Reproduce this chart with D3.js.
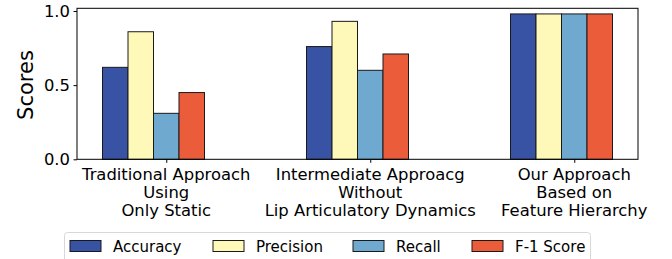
<!DOCTYPE html>
<html>
<head>
<meta charset="utf-8">
<script src="https://cdn.jsdelivr.net/npm/d3@7"></script>
<style>
  body { margin: 0; background: #fff; }
  svg { display: block; font-family: "DejaVu Sans", sans-serif; }
</style>
</head>
<body>
<div id="chart"></div>
<script>
// data
var groups = [
  ["Traditional Approach", "Using", "Only Static"],
  ["Intermediate Approacg", "Without", "Lip Articulatory Dynamics"],
  ["Our Approach", "Based on", "Feature Hierarchy"]
];
var metrics = ["Accuracy", "Precision", "Recall", "F-1 Score"];
var accuracy = [0.62, 0.76, 0.98];
var precision = [0.86, 0.93, 0.98];
var recall = [0.31, 0.60, 0.98];
var f1score = [0.45, 0.71, 0.98];
var yTicks = [0.0, 0.5, 1.0];
var colors = ["#3953a4", "#fef9b8", "#70a9d0", "#eb5d3a"];

var series = [accuracy, precision, recall, f1score];
var barW = 0.125;

var width = 672, height = 259;
var plotL = 77, plotR = 638, plotT = 8.3, plotB = 159.3;

var svg = d3.select("#chart").append("svg")
  .attr("width", width)
  .attr("height", height);

var x = d3.scaleLinear().domain([-0.1875, 2.5625]).range([plotL, plotR]);
var y = d3.scaleLinear().domain([0, 1.018]).range([plotB, plotT]);

// bars
series.forEach(function(vals, i){
  svg.selectAll(".bar" + i)
    .data(vals)
    .enter()
    .append("rect")
    .attr("x", function(d, g){ return x(g + i * barW - barW / 2); })
    .attr("y", function(d){ return y(d); })
    .attr("width", x(barW) - x(0))
    .attr("height", function(d){ return y(0) - y(d); })
    .attr("fill", colors[i])
    .attr("stroke", "#1a1a1a")
    .attr("stroke-width", 1);
});

// frame
svg.append("rect")
  .attr("x", plotL).attr("y", plotT)
  .attr("width", plotR - plotL).attr("height", plotB - plotT)
  .attr("fill", "none").attr("stroke", "#000").attr("stroke-width", 1);

// y axis
var yAxis = svg.append("g")
  .attr("transform", "translate(" + plotL + ",0)")
  .call(d3.axisLeft(y).tickValues(yTicks).tickFormat(d3.format(".1f")).tickSize(3.5).tickPadding(3.5));
yAxis.select(".domain").remove();
yAxis.selectAll("text").style("font-size", "16.4px").attr("fill", "#000").style("font-family", "DejaVu Sans");

// x axis, ticks at third bar of each group
var xAxis = svg.append("g")
  .attr("transform", "translate(0," + plotB + ")")
  .call(d3.axisBottom(x).tickValues([0, 1, 2].map(function(g){ return g + 2 * barW; })).tickFormat("").tickSize(3.5));
xAxis.select(".domain").remove();

groups.forEach(function(lines, g){
  var t = svg.append("text")
    .attr("x", x(g + 2 * barW))
    .attr("y", 180)
    .attr("text-anchor", "middle")
    .style("font-size", "16.4px");
  lines.forEach(function(l, k){
    t.append("tspan").attr("x", x(g + 2 * barW)).attr("dy", k === 0 ? 0 : 18).text(l);
  });
});

// y label
svg.append("text")
  .attr("transform", "translate(33,85) rotate(-90)")
  .attr("text-anchor", "middle")
  .style("font-size", "21px")
  .text("Scores");

// legend
var leg = svg.append("g");
leg.append("rect")
  .attr("x", 64.5).attr("y", 232.5)
  .attr("width", 526).attr("height", 40).attr("rx", 3)
  .attr("fill", "#fff").attr("stroke", "#d8d8d8");
var legX = [70, 213, 353, 472];
metrics.forEach(function(m, i){
  leg.append("rect")
    .attr("x", legX[i]).attr("y", 240.5)
    .attr("width", 31).attr("height", 11)
    .attr("fill", colors[i]).attr("stroke", "#1a1a1a");
  leg.append("text")
    .attr("x", legX[i] + 43).attr("y", 251.5)
    .style("font-size", "15px")
    .text(m);
});
</script>
</body>
</html>
